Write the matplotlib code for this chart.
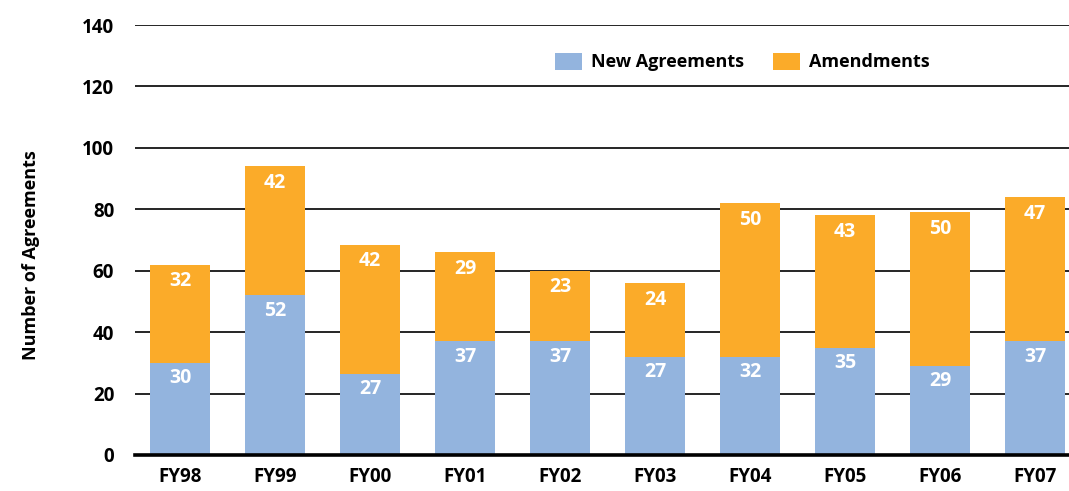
import matplotlib
matplotlib.use("Agg")
import matplotlib.pyplot as plt
import numpy as np

years = ['FY98', 'FY99', 'FY00', 'FY01', 'FY02', 'FY03', 'FY04', 'FY05', 'FY06', 'FY07']
# bar heights as drawn in the picture
new_heights = [30, 52, 26.5, 37, 37, 32, 32, 35, 29, 37]
amend_heights = [32, 42, 42, 29, 23, 24, 50, 43, 50, 47]
# numbers printed on the bars
new_labels = ['30', '52', '27', '37', '37', '27', '32', '35', '29', '37']
amend_labels = ['32', '42', '42', '29', '23', '24', '50', '43', '50', '47']
yticks = [0, 20, 40, 60, 80, 100, 120, 140]

blue = '#93b4de'
orange = '#fbab29'

plt.rcParams['font.family'] = ['Open Sans', 'DejaVu Sans']
plt.rcParams['font.weight'] = 'bold'

fig = plt.figure(figsize=(10.69, 4.91), dpi=100)
ax = fig.add_axes([135 / 1069, 36 / 491, 934 / 1069, 430 / 491])

x = np.arange(len(years))
w = 0.632
ax.bar(x, new_heights, w, color=blue, label='New Agreements', zorder=2)
ax.bar(x, amend_heights, w, bottom=new_heights, color=orange, label='Amendments', zorder=2)

# labels near the top of each segment
tops_new = np.array(new_heights)
tops_all = tops_new + np.array(amend_heights)
for i in range(len(years)):
    ax.annotate(new_labels[i], (x[i], tops_new[i]), xytext=(0, -11), textcoords='offset points',
                ha='center', va='center', color='white', fontsize=14, fontweight='bold', zorder=3)
    ax.annotate(amend_labels[i], (x[i], tops_all[i]), xytext=(0, -12), textcoords='offset points',
                ha='center', va='center', color='white', fontsize=14, fontweight='bold', zorder=3)

ax.set_xlim(-45 / 95, (1069 - 180) / 95)
ax.set_ylim(0, 140)
ax.set_yticks(yticks)
ax.set_xticks(x)
ax.set_xticklabels(years)
ax.tick_params(axis='both', length=0, labelsize=13.5)
ax.tick_params(axis='y', pad=15)
ax.tick_params(axis='x', pad=9)

ax.grid(axis='y', color='black', linewidth=1.2, zorder=0)
ax.set_axisbelow(True)
for s in ['left', 'right', 'top']:
    ax.spines[s].set_visible(False)
ax.spines['bottom'].set_linewidth(2.6)
ax.spines['bottom'].set_zorder(4)

ax.set_ylabel('Number of Agreements', fontsize=13, fontweight='bold')
ax.yaxis.set_label_coords(-0.102, 0.465)

leg = ax.legend(loc='center left', bbox_to_anchor=(404 / 934, 1 - 37 / 430), ncol=2, frameon=False,
                fontsize=13, handlelength=1.5, handleheight=1.1, columnspacing=1.6, handletextpad=0.5)

fig.savefig('out.png', dpi=100)
